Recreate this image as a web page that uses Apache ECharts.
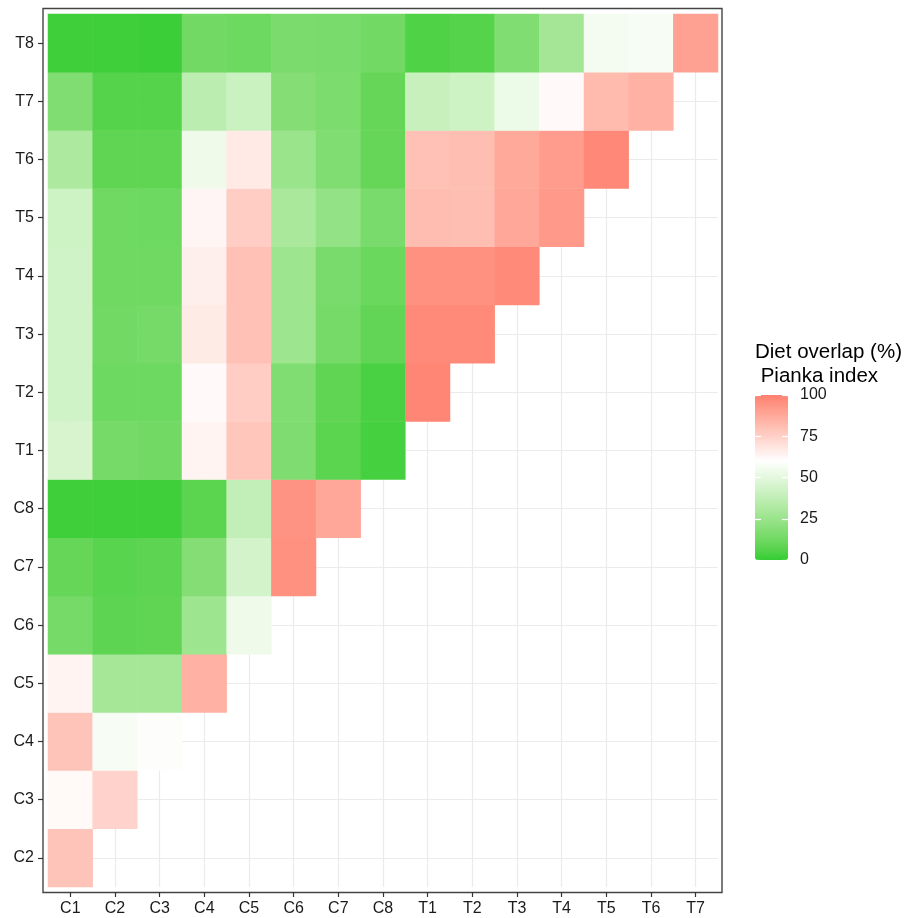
<!DOCTYPE html>
<html>
<head>
<meta charset="utf-8">
<script src="https://cdn.jsdelivr.net/npm/echarts@6/dist/echarts.min.js"></script>
<style>
  html, body { margin: 0; padding: 0; background: #ffffff; }
  #chart { width: 919px; height: 918px; }
</style>
</head>
<body>
<div id="chart"></div>
<script>
// Species / groups compared (lower triangle of the overlap matrix)
const xCategories = ['C1', 'C2', 'C3', 'C4', 'C5', 'C6', 'C7', 'C8', 'T1', 'T2', 'T3', 'T4', 'T5', 'T6', 'T7'];
const yCategories = ['C2', 'C3', 'C4', 'C5', 'C6', 'C7', 'C8', 'T1', 'T2', 'T3', 'T4', 'T5', 'T6', 'T7', 'T8'];

// Pianka diet overlap (%) of each row group against C1, C2, ... in order
const rowC2 = [79];
const rowC3 = [62, 74];
const rowC4 = [79, 57, 59];
const rowC5 = [63.5, 28.5, 28.5, 85];
const rowC6 = [14, 8, 8.5, 26, 54];
const rowC7 = [10, 7, 8, 18, 44, 95];
const rowC8 = [2, 2, 2, 7.5, 38, 94.5, 88];
const rowT1 = [45.5, 14, 13, 63.5, 78, 16.5, 7.5, 3];
const rowT2 = [43, 12, 12, 61.5, 76, 17, 8.5, 4, 98.5];
const rowT3 = [43, 13, 14, 66.5, 80, 26, 14, 9, 97, 97];
const rowT4 = [43, 12.5, 12.5, 65, 80, 26, 15, 11, 95, 95, 97];
const rowT5 = [42, 12.5, 12, 63, 76, 30, 23, 15, 81.5, 81, 88, 92.5];
const rowT6 = [31, 8.5, 8.5, 54, 67, 25, 17, 10, 80, 81, 87.5, 91.5, 97.5];
const rowT7 = [17, 6, 6, 36, 41, 18, 16, 10, 40, 42, 53, 61.5, 82, 85];
const rowT8 = [2, 2, 1.5, 13, 12, 15.5, 15, 13, 5, 6, 17, 28, 56, 57, 90];

const legendTicks = [0, 25, 50, 75, 100];
const legendTitle = 'Diet overlap (%)\n Pianka index';

// Diverging fill scale: green -> white -> red, interpolated in CIE Lab
const lowColor = '#32CD32';
const midColor = '#FFFFFF';
const highColor = '#FF8070';
const scaleMin = 0, scaleMax = 100, scaleMid = 60;

function toLinear(c) { c /= 255; return c <= 0.04045 ? c / 12.92 : Math.pow((c + 0.055) / 1.055, 2.4); }
function toSrgb(c) {
  c = c <= 0.0031308 ? 12.92 * c : 1.055 * Math.pow(c, 1 / 2.4) - 0.055;
  return Math.round(Math.max(0, Math.min(1, c)) * 255);
}
function hexToLab(hex) {
  const n = parseInt(hex.slice(1), 16);
  const r = toLinear((n >> 16) & 255), g = toLinear((n >> 8) & 255), b = toLinear(n & 255);
  const X = (0.4124564 * r + 0.3575761 * g + 0.1804375 * b) / 0.95047;
  const Y = 0.2126729 * r + 0.7151522 * g + 0.0721750 * b;
  const Z = (0.0193339 * r + 0.1191920 * g + 0.9503041 * b) / 1.08883;
  const f = t => t > 0.008856 ? Math.cbrt(t) : 7.787 * t + 16 / 116;
  const fx = f(X), fy = f(Y), fz = f(Z);
  return [116 * fy - 16, 500 * (fx - fy), 200 * (fy - fz)];
}
function labToHex(lab) {
  const fy = (lab[0] + 16) / 116, fx = fy + lab[1] / 500, fz = fy - lab[2] / 200;
  const inv = t => { const t3 = t * t * t; return t3 > 0.008856 ? t3 : (t - 16 / 116) / 7.787; };
  const X = 0.95047 * inv(fx), Y = inv(fy), Z = 1.08883 * inv(fz);
  const r = 3.2404542 * X - 1.5371385 * Y - 0.4985314 * Z;
  const g = -0.9692660 * X + 1.8760108 * Y + 0.0415560 * Z;
  const b = 0.0556434 * X - 0.2040259 * Y + 1.0572252 * Z;
  return 'rgb(' + toSrgb(r) + ',' + toSrgb(g) + ',' + toSrgb(b) + ')';
}
const labLow = hexToLab(lowColor), labMid = hexToLab(midColor), labHigh = hexToLab(highColor);
function mixLab(a, b, t) { return [0, 1, 2].map(i => a[i] + (b[i] - a[i]) * t); }
function fillFor(v) {
  if (v <= scaleMid) return labToHex(mixLab(labLow, labMid, (v - scaleMin) / (scaleMid - scaleMin)));
  return labToHex(mixLab(labMid, labHigh, (v - scaleMid) / (scaleMax - scaleMid)));
}
const colorStops = [];
for (let i = 0; i <= 80; i++) colorStops.push(fillFor(scaleMin + (scaleMax - scaleMin) * i / 80));

// Build [x, y, value] triples for the heatmap
const rows = [rowC2, rowC3, rowC4, rowC5, rowC6, rowC7, rowC8, rowT1, rowT2, rowT3, rowT4, rowT5, rowT6, rowT7, rowT8];
const cells = [];
rows.forEach((vals, yi) => vals.forEach((v, xi) => cells.push([xi, yi, v])));

const fontFamily = '"Liberation Sans", Arial, Helvetica, sans-serif';
const textColor = '#1a1a1a';

const chart = echarts.init(document.getElementById('chart'), null, { renderer: 'canvas' });
chart.setOption({
  animation: false,
  backgroundColor: '#ffffff',
  title: {
    text: legendTitle,
    left: 755,
    top: 341,
    padding: 0,
    textStyle: { fontFamily, fontSize: 20.5, fontWeight: 'normal', color: '#000000', lineHeight: 23.5 }
  },
  grid: [
    { left: 48, top: 14, width: 670, height: 873 },
    { left: 43, top: 8.5, width: 679, height: 884, show: true, borderColor: '#444444', borderWidth: 1.4, backgroundColor: 'transparent' },
    { left: 755, top: 395, width: 33, height: 165 }
  ],
  xAxis: [
    {
      type: 'category', gridIndex: 0, data: xCategories, position: 'bottom', offset: 5,
      axisLine: { show: false },
      axisTick: { show: true, alignWithLabel: true, length: 5, lineStyle: { color: '#333333', width: 1.2 } },
      axisLabel: { fontFamily, fontSize: 16, color: textColor, margin: 9 },
      splitLine: { show: true, alignWithLabel: true, lineStyle: { color: '#ebebeb', width: 1.2 } }
    },
    { type: 'value', gridIndex: 2, show: false, min: 0, max: 1 }
  ],
  yAxis: [
    {
      type: 'category', gridIndex: 0, data: yCategories, position: 'left', offset: 5,
      axisLine: { show: false },
      axisTick: { show: true, alignWithLabel: true, length: 5, lineStyle: { color: '#333333', width: 1.2 } },
      axisLabel: { fontFamily, fontSize: 16, color: textColor, margin: 9 },
      splitLine: { show: true, alignWithLabel: true, lineStyle: { color: '#ebebeb', width: 1.2 } }
    },
    {
      type: 'value', gridIndex: 2, position: 'left', min: 0, max: 100, interval: 25, z: 10,
      axisLine: { show: false },
      axisTick: { show: true, inside: true, length: 6, lineStyle: { color: '#ffffff', width: 1.2 } },
      axisLabel: { show: false },
      splitLine: { show: false }
    },
    {
      type: 'value', gridIndex: 2, position: 'right', min: 0, max: 100, interval: 25, z: 10,
      axisLine: { show: false },
      axisTick: { show: true, inside: true, length: 6, lineStyle: { color: '#ffffff', width: 1.2 } },
      axisLabel: { show: true, fontFamily, fontSize: 16, color: textColor, margin: 12,
                   formatter: v => legendTicks.indexOf(v) >= 0 ? String(v) : '' },
      splitLine: { show: false }
    }
  ],
  visualMap: {
    type: 'continuous',
    min: scaleMin, max: scaleMax,
    dimension: 2, seriesIndex: 0,
    calculable: false, hoverLink: false,
    orient: 'vertical',
    left: 755, top: 395,
    itemWidth: 33, itemHeight: 165,
    padding: 0,
    inRange: { color: colorStops }
  },
  series: [{
    type: 'heatmap',
    xAxisIndex: 0, yAxisIndex: 0,
    data: cells,
    itemStyle: { borderWidth: 0 },
    emphasis: { disabled: true },
    progressive: 0
  }]
});
</script>
</body>
</html>
